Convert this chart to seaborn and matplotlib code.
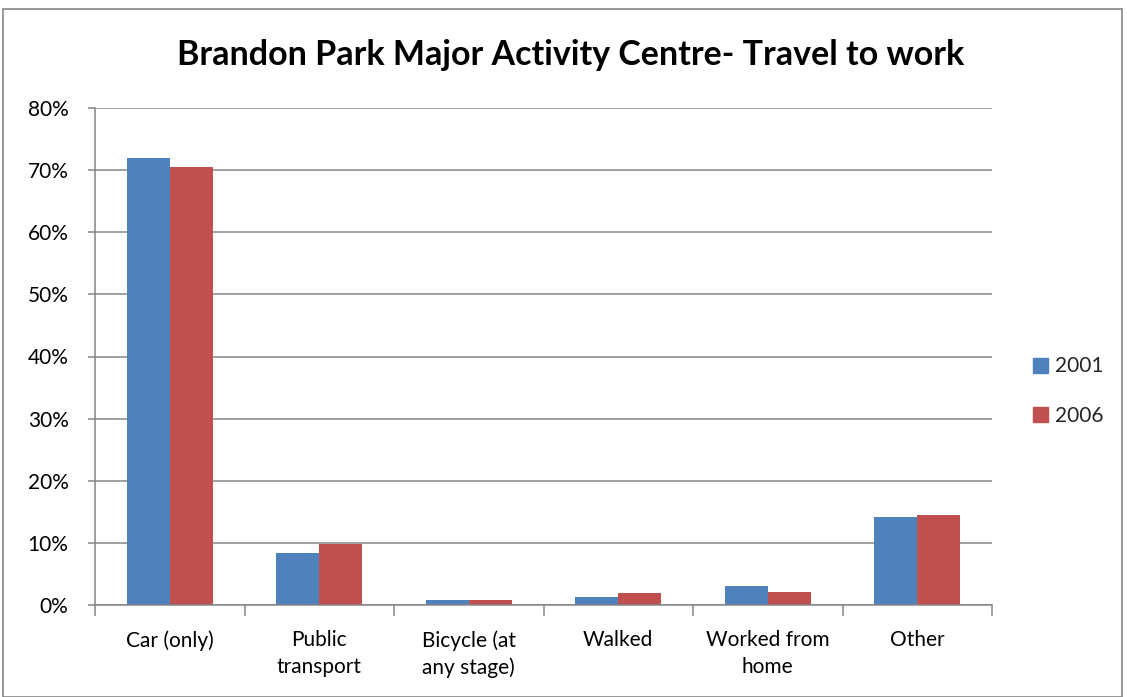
import matplotlib
matplotlib.use("Agg")
import matplotlib.pyplot as plt
import seaborn as sns
import pandas as pd
from matplotlib.patches import Rectangle
from matplotlib.ticker import FixedLocator, PercentFormatter

categories = ["Car (only)", "Public\ntransport", "Bicycle (at\nany stage)",
              "Walked", "Worked from\nhome", "Other"]
years = ["2001", "2006"]
share_2001 = [71.9, 8.4, 0.85, 1.3, 3.05, 14.2]
share_2006 = [70.5, 9.8, 0.8, 2.0, 2.1, 14.45]
y_ticks = [0, 10, 20, 30, 40, 50, 60, 70, 80]

df = pd.DataFrame({
    "category": categories * 2,
    "year": [years[0]] * len(categories) + [years[1]] * len(categories),
    "share": share_2001 + share_2006,
})

sns.set_theme(style="white")
plt.rcParams["font.family"] = ["Lato", "DejaVu Sans"]

fig = plt.figure(figsize=(11.27, 6.97), dpi=100)
ax = fig.add_axes([95 / 1127, 92 / 697, (992 - 95) / 1127, (605 - 108) / 697])

palette = {"2001": "#4F81BD", "2006": "#C0504D"}
sns.barplot(data=df, x="category", y="share", hue="year", order=categories,
            hue_order=years, palette=palette, width=0.575, gap=0,
            saturation=1, ax=ax, legend=False, edgecolor="none")

ax.set_ylim(0, 80)
ax.set_xlim(-0.5, len(categories) - 0.5)
ax.yaxis.set_major_locator(FixedLocator(y_ticks))
ax.yaxis.set_major_formatter(PercentFormatter(decimals=0))
ax.grid(axis="y", color="#868686", linewidth=1.1)
ax.set_axisbelow(True)
ax.set_xlabel("")
ax.set_ylabel("")

for side in ["top", "right"]:
    ax.spines[side].set_visible(False)
for side in ["left", "bottom"]:
    ax.spines[side].set_color("#868686")
    ax.spines[side].set_linewidth(1.1)

# tick marks at category boundaries on the x axis, labels centred on groups
ax.set_xticks(range(len(categories)))
ax.set_xticklabels(categories, fontsize=15, color="black", linespacing=1.44)
ax.tick_params(axis="x", length=0, pad=18)
ax.set_xticks([i - 0.5 for i in range(len(categories) + 1)], minor=True)
ax.tick_params(axis="x", which="minor", bottom=True, length=8,
               color="#868686", width=1.1, direction="out")
ax.tick_params(axis="y", left=True, length=5, color="#868686", width=1.1,
               labelsize=15, labelcolor="black", pad=14)

# legend
handles = [Rectangle((0, 0), 1, 1, color=palette[y]) for y in years]
fig.legend(handles, years, loc="center left", bbox_to_anchor=(1014 / 1127, 1 - 391 / 697),
           frameon=False, fontsize=15, handlelength=0.75, handleheight=0.75,
           handletextpad=0.3, labelspacing=1.4)

fig.text(571 / 1127, 1 - 55 / 697, "Brandon Park Major Activity Centre- Travel to work",
         ha="center", va="center", fontsize=24.5, fontweight="bold", color="black")

# outer chart border
fig.patches.append(Rectangle((3 / 1127, 0), 1119 / 1127, 1 - 9 / 697,
                             transform=fig.transFigure, fill=False,
                             edgecolor="#868686", linewidth=1.2))

fig.savefig("out.png", dpi=100)
